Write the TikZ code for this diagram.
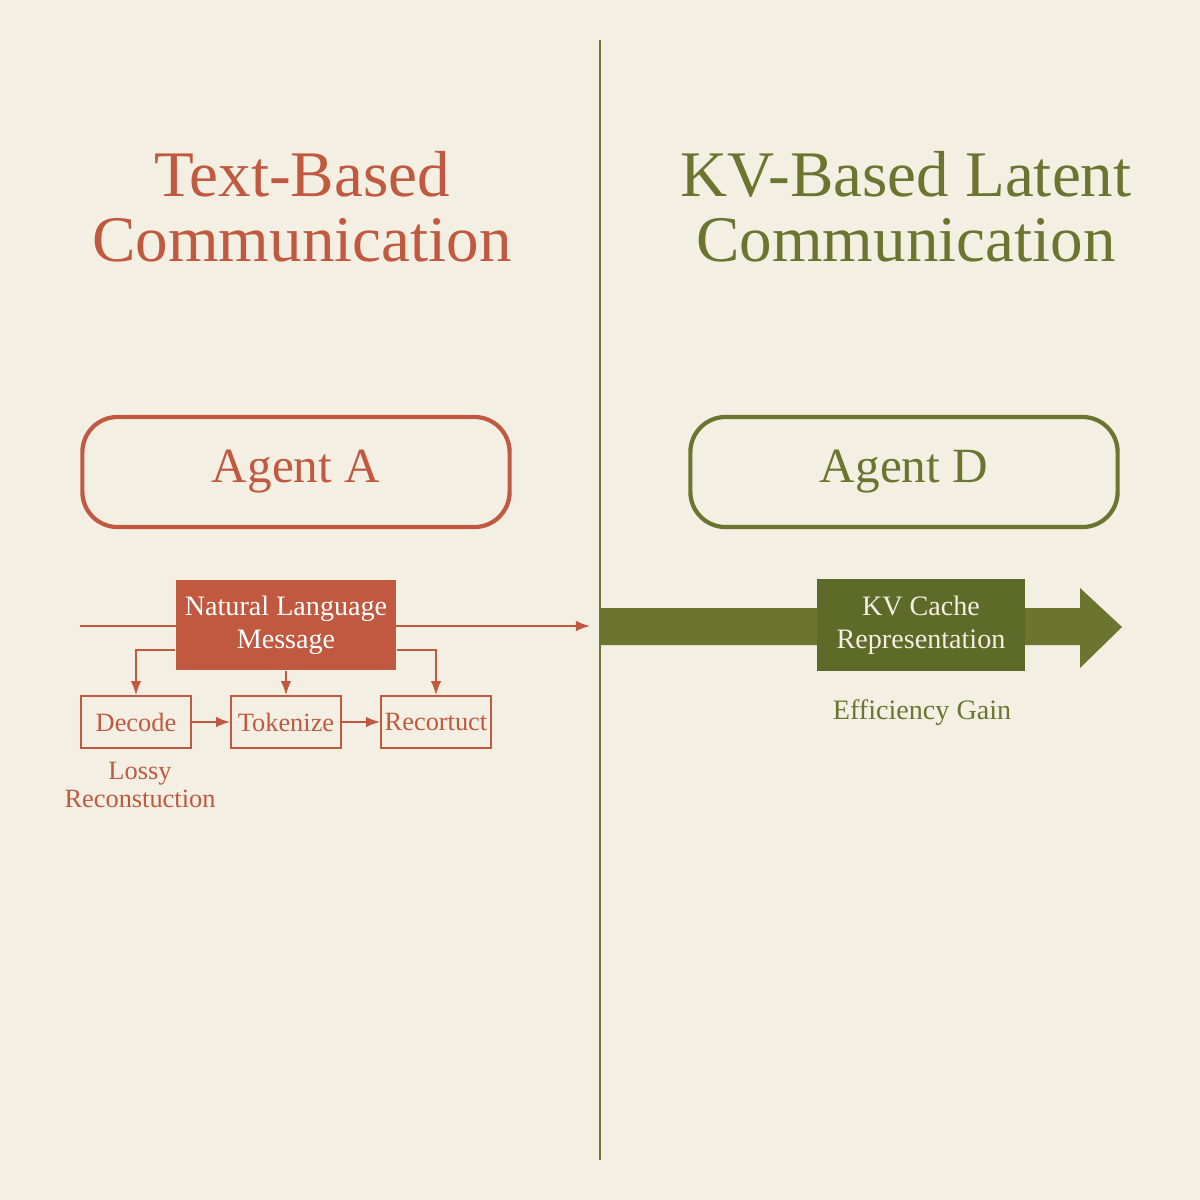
\documentclass[tikz,border=0pt]{standalone}
\usepackage{tikz}
\usepackage{fontspec}
\setmainfont{Liberation Serif}
\usetikzlibrary{positioning,arrows.meta}
\definecolor{bgcol}{HTML}{F3EFE3}
\definecolor{redc}{HTML}{C0593F}
\definecolor{greenc}{HTML}{6B7530}
\definecolor{greend}{HTML}{5E6A28}
\begin{document}
\begin{tikzpicture}[x=0.01cm,y=-0.01cm]
    % Styles
    \tikzset{title/.style={font=\fontsize{18.5}{18.5}\selectfont, align=center},
      agent/.style={rectangle, draw, rounded corners=10pt, line width=1.2pt, minimum width=4.27cm, minimum height=1.1cm, font=\fontsize{14}{16}\selectfont},
      stage/.style={rectangle, draw=redc, line width=0.5pt, minimum width=1.1cm, minimum height=0.52cm, text=redc, font=\fontsize{7.5}{9}\selectfont, inner sep=0pt},
      line/.style={draw=redc, line width=0.5pt, -{Latex[length=4pt,width=3pt]}}}
    \fill[bgcol] (0,0) rectangle (1200,1200);
    \draw[greenc, line width=0.8pt] (600,40) -- (600,1160);

    % Titles
    \node[title, text=redc] (ttext) at (302,207) {Text-Based\\Communication};
    \node[title, text=greenc] (tkv) at (906,207) {KV-Based Latent\\Communication};

    % Agents
    \node[agent, draw=redc, text=redc] (agenta) at (296,472) {Agent A};
    \node[agent, draw=greenc, text=greenc] (agentd) at (904,472) {Agent D};

    % Left side
    \coordinate (lin) at (80,626);
    \coordinate (lout) at (590,626);
    \draw[line] (lin) -- (lout);
    \node[rectangle, fill=redc, minimum width=2.2cm, minimum height=0.9cm, inner sep=0pt, text=white, align=center, font=\fontsize{8}{9.5}\selectfont] (msg) at (286,625) {Natural Language\\Message};
    \node[stage] (decode) at (136,722) {Decode};
    \node[stage] (tokenize) at (286,722) {Tokenize};
    \node[stage] (recon) at (436,722) {Recortuct};
    \draw[line] ([yshift=-0.25cm]msg.west) -| (decode.north);
    \draw[line] (msg.south) -- (tokenize.north);
    \draw[line] ([yshift=-0.25cm]msg.east) -| (recon.north);
    \draw[line] (decode) -- (tokenize);
    \draw[line] (tokenize) -- (recon);
    \node[text=redc, align=center, font=\fontsize{7.5}{8}\selectfont, inner sep=0pt] (lossy) at (140,785) {Lossy\\Reconstuction};

    % Right side
    \fill[greenc] (600,608) -- (1080,608) -- (1080,588) -- (1122,627) -- (1080,668) -- (1080,645) -- (600,645) -- cycle;
    \node[rectangle, fill=greend, minimum width=2.07cm, minimum height=0.91cm, inner sep=0pt, text=bgcol, align=center, font=\fontsize{8}{9.5}\selectfont] (kv) at (921,625) {KV Cache\\Representation};
    \node[text=greenc, font=\fontsize{8}{10}\selectfont] (gain) at (922,713) {Efficiency Gain};
\end{tikzpicture}
\end{document}
